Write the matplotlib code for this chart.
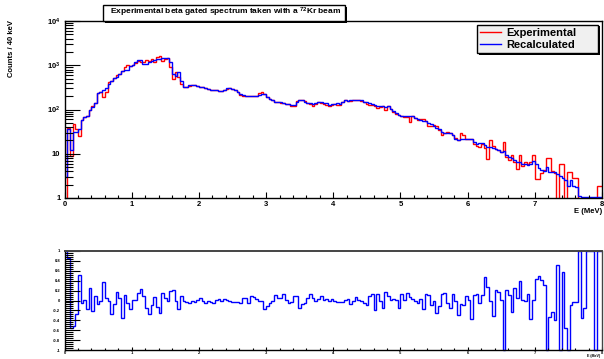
import numpy as np
import matplotlib

matplotlib.use("Agg")
import matplotlib.pyplot as plt
from matplotlib.patches import Rectangle
from matplotlib.ticker import FuncFormatter, LogLocator, MultipleLocator, NullFormatter

plt.rcParams["font.family"] = ["Liberation Sans", "DejaVu Sans"]
plt.rcParams["font.weight"] = "bold"
plt.rcParams["mathtext.fontset"] = "custom"
plt.rcParams["mathtext.rm"] = "Liberation Sans:bold"
plt.rcParams["mathtext.bf"] = "Liberation Sans:bold"
plt.rcParams["mathtext.it"] = "Liberation Sans:bold"

# 40 keV bins from 0 to 8 MeV
E_MIN, E_MAX, N_BINS = 0.0, 8.0, 200

exp_counts = [
    0, 38, 9, 48, 37, 25, 59, 67, 73, 100,
    123, 141, 237, 245, 190, 245, 410, 450, 510, 600,
    640, 760, 900, 1000, 980, 1000, 1100, 1280, 1170, 1200,
    1320, 1250, 1390, 1200, 1500, 1580, 1250, 1390, 1440, 900,
    500, 700, 530, 380, 320, 320, 340, 360, 360, 345,
    330, 320, 300, 290, 280, 275, 280, 266, 266, 280,
    295, 300, 285, 280, 255, 215, 206, 200, 206, 200,
    206, 206, 230, 245, 225, 190, 170, 160, 150, 150,
    143, 138, 134, 134, 123, 123, 155, 165, 168, 155,
    141, 130, 119, 135, 145, 140, 134, 128, 122, 125,
    130, 128, 128, 145, 160, 155, 155, 165, 160, 165,
    158, 145, 134, 128, 128, 123, 107, 113, 117, 95,
    123, 105, 90, 80, 76, 71, 68, 66, 53, 70,
    63, 59, 61, 62, 55, 43, 42, 44, 42, 35,
    27, 30, 31, 29, 27, 23, 20, 29, 26, 22,
    22, 21, 17, 15, 14, 17, 13.5, 7.7, 20, 15,
    12.5, 12, 11, 18, 8.4, 7.4, 9.2, 6.5, 4.6, 9.2,
    5.4, 6.5, 6, 6.5, 9.2, 2.7, 2.7, 3.7, 4.2, 8,
    8, 4, 3.6, 0, 6, 6, 0, 3.8, 3.8, 2.9,
    2.9, 0, 0, 0, 0, 0, 0, 0, 1.9, 1.9,
]

rec_counts = [
    3, 37, 12, 31, 31, 37, 59, 67, 73, 100,
    112, 141, 237, 255, 282, 300, 380, 430, 510, 530,
    640, 760, 790, 790, 980, 1000, 1170, 1320, 1320, 1070,
    1070, 1170, 1250, 1300, 1350, 1400, 1440, 1440, 1440, 1170,
    640, 580, 700, 450, 330, 320, 350, 360, 360, 345,
    330, 320, 300, 295, 280, 280, 275, 266, 266, 280,
    300, 300, 295, 280, 255, 225, 215, 206, 206, 200,
    206, 206, 215, 220, 225, 190, 175, 163, 150, 150,
    145, 141, 134, 134, 127, 127, 150, 160, 160, 150,
    141, 141, 134, 141, 145, 145, 141, 138, 127, 130,
    134, 141, 134, 150, 160, 155, 160, 160, 160, 165,
    162, 150, 145, 138, 134, 127, 123, 119, 123, 113,
    119, 103, 93, 84, 76, 73, 71, 73, 73, 71,
    63, 61, 58, 55, 54, 50, 47, 42, 39, 37,
    31, 29, 30, 29, 26, 22, 20, 21, 22, 22,
    22, 21, 18, 17, 17.7, 17.5, 15.4, 14, 14, 13.4,
    12.5, 12, 11, 11.3, 9.5, 8.4, 8, 7.4, 6.5, 6.5,
    6, 5.9, 5.6, 6, 6.7, 6, 4.7, 4.4, 4, 5,
    3.9, 3.9, 3.9, 3.4, 3.1, 2.8, 2.5, 1.9, 2.6, 1.9,
    1.8, 1.1, 1.05, 1.05, 1.05, 1.05, 1.05, 1.05, 1.05, 1.05,
]

ratio = [
    1.0, 0.85, -0.55, -0.52, -0.28, 0.52, -0.05, 0.02, -0.17, 0.25,
    -0.22, 0.1, -0.07, 0.0, 0.37, 0.05, 0.0, -0.27, -0.08, 0.17,
    0.05, -0.35, 0.12, -0.05, -0.18, 0.02, 0.02, 0.15, 0.24, 0.1,
    -0.15, -0.27, -0.1, 0.08, -0.13, -0.25, 0.16, 0.05, 0.0, 0.2,
    0.22, 0.0, -0.17, 0.1, -0.02, -0.03, -0.05, 0.0, -0.03, 0.02,
    0.06, 0.0, -0.05, -0.02, -0.03, -0.05, 0.01, 0.03, -0.02, 0.04,
    0.02, -0.02, -0.04, -0.04, -0.04, -0.05, 0.06, 0.06, -0.05, 0.1,
    0.08, 0.04, 0.0, -0.02, -0.18, -0.12, -0.05, 0.0, 0.12, 0.05,
    0.05, 0.13, 0.02, -0.06, -0.03, 0.1, 0.1, -0.15, -0.08, -0.05,
    0.06, 0.14, 0.06, 0.0, 0.04, 0.09, 0.02, 0.04, 0.0, 0.04,
    0.0, -0.03, -0.04, -0.03, 0.02, 0.04, -0.07, 0.0, 0.08, 0.01,
    -0.02, -0.05, -0.09, 0.09, 0.13, -0.19, 0.14, 0.0, -0.16, 0.18,
    0.09, 0.02, 0.04, 0.01, -0.16, 0.14, 0.01, 0.16, 0.08, 0.04,
    0.0, -0.05, 0.04, -0.18, 0.14, 0.11, -0.09, 0.0, -0.26, -0.11,
    0.14, 0.16, -0.05, -0.16, 0.14, 0.0, -0.29, -0.07, -0.09, 0.09,
    0.01, -0.38, 0.11, 0.14, -0.05, 0.11, 0.47, 0.28, -0.02, -0.31,
    0.21, 0.18, 0.01, -1.0, 0.21, 0.11, -0.23, 0.25, 0.05, 0.4,
    0.01, -0.02, 0.14, -0.38, 0.01, 0.43, 0.49, 0.41, 0.31, -1.0,
    -0.33, -0.23, -0.39, 0.72, -1.0, 0.58, -0.56, -1.0, -0.09, -0.04,
    -0.04, 1.0, -0.36, -0.16, 1.0, 1.0, 1.0, -1.0, 1.0, 1.0,
]

TITLE = r"Experimental beta gated spectrum taken with a $^{72}$Kr beam"

W, H = 604, 359
edges = np.linspace(E_MIN, E_MAX, N_BINS + 1)

AX_L, AX_R = 64.5, 602


def px_axes(left, top, right, bottom):
    return [left / W, 1 - bottom / H, (right - left) / W, (bottom - top) / H]


def log_label(v, pos):
    if v < 5:
        return "1"
    if v < 50:
        return "10"
    return r"$10^{%d}$" % round(np.log10(v))


def style_ticks(ax, ylen, xlen, lsize, pad_y, pad_x):
    ax.tick_params(which="both", direction="in", top=False, right=False, width=0.8,
                   labelsize=lsize)
    ax.tick_params(axis="y", which="major", length=ylen, pad=pad_y)
    ax.tick_params(axis="y", which="minor", length=ylen / 2)
    ax.tick_params(axis="x", which="major", length=xlen, pad=pad_x)
    ax.tick_params(axis="x", which="minor", length=xlen / 2)
    for s in ax.spines.values():
        s.set_linewidth(1.0)


fig = plt.figure(figsize=(W / 100, H / 100), dpi=100)

# --- main spectrum -------------------------------------------------------
top_px, bot_px = 21, 198
ax = fig.add_axes(px_axes(AX_L, top_px, AX_R, bot_px))
ax.stairs(exp_counts, edges, color="#ff0000", lw=1.0, baseline=None, label="Experimental")
ax.stairs(rec_counts, edges, color="#0000ff", lw=1.0, baseline=None, label="Recalculated")
ax.set_yscale("log", nonpositive="clip")
ax.set_xlim(E_MIN, E_MAX)
ax.set_ylim(1, 1e4)
ax.xaxis.set_major_locator(MultipleLocator(1))
ax.xaxis.set_minor_locator(MultipleLocator(0.2))
ax.yaxis.set_major_locator(LogLocator(base=10, numticks=10))
ax.yaxis.set_minor_locator(LogLocator(base=10, subs=np.arange(2, 10), numticks=10))
ax.yaxis.set_major_formatter(FuncFormatter(log_label))
ax.yaxis.set_minor_formatter(NullFormatter())
style_ticks(ax, 10.8, 4.0, 5.5, 3.0, 2.0)

# legend box spans x 477-598 px, y 25-53 px
aw, ah = AX_R - AX_L, bot_px - top_px
leg_box = ((477 - AX_L) / aw, (bot_px - 53) / ah, (598 - 477) / aw, 28 / ah)
leg = ax.legend(loc="upper left", bbox_to_anchor=leg_box, mode="expand", borderaxespad=0,
                fontsize=8, frameon=True, fancybox=False, edgecolor="black",
                facecolor="#f0f0f0", framealpha=1, handlelength=1.9, handletextpad=0.45,
                labelspacing=0.15, borderpad=0.3)
leg.get_frame().set_linewidth(1.0)
for t in leg.get_texts():
    t.set_fontweight("bold")
# thin black shadow under the legend, like ROOT draws it
ax.add_patch(Rectangle((479 / W, 1 - 55 / H), 121 / W, 29 / H, transform=fig.transFigure,
                       facecolor="black", edgecolor="none", zorder=4.9, clip_on=False))

fig.text(12 / W, 1 - 20 / H, "Counts / 40 keV", rotation=90, ha="center", va="top",
         fontsize=5.5, fontweight="bold")
fig.text(AX_R / W, 1 - 208 / H, "E (MeV)", ha="right", va="top", fontsize=5.5,
         fontweight="bold")

# title box with ROOT-like shadow
fig.patches.append(Rectangle((105 / W, 1 - 22.5 / H), 242 / W, 15.7 / H,
                             transform=fig.transFigure, facecolor="black", edgecolor="none"))
fig.patches.append(Rectangle((103 / W, 1 - 20.7 / H), 242 / W, 15.7 / H,
                             transform=fig.transFigure, facecolor="white", edgecolor="black",
                             linewidth=1.0))
fig.text(110 / W, 1 - 12.8 / H, TITLE, ha="left", va="center", fontsize=6.0,
         fontweight="bold")

# --- relative difference ---------------------------------------------------
ax2 = fig.add_axes(px_axes(AX_L, 251, AX_R, 350))
ax2.stairs(ratio, edges, color="#0000ff", lw=1.0, baseline=None, clip_on=False)
ax2.set_xlim(E_MIN, E_MAX)
ax2.set_ylim(-1, 1)
ax2.xaxis.set_major_locator(MultipleLocator(1))
ax2.xaxis.set_minor_locator(MultipleLocator(0.2))
ax2.yaxis.set_major_locator(MultipleLocator(0.2))
ax2.yaxis.set_minor_locator(MultipleLocator(0.04))
ax2.yaxis.set_major_formatter(FuncFormatter(lambda v, p: "%g" % (round(v, 1) + 0.0)))
style_ticks(ax2, 10.8, 2.2, 3.0, 3.0, 1.0)
ax2.spines["top"].set_color("#444444")
ax2.spines["right"].set_color("#444444")
ax2.spines["top"].set_linewidth(1.4)

fig.text(600 / W, 1 - 354 / H, "E (MeV)", ha="right", va="top", fontsize=2.6,
         fontweight="bold")

fig.savefig("out.png", dpi=100)
